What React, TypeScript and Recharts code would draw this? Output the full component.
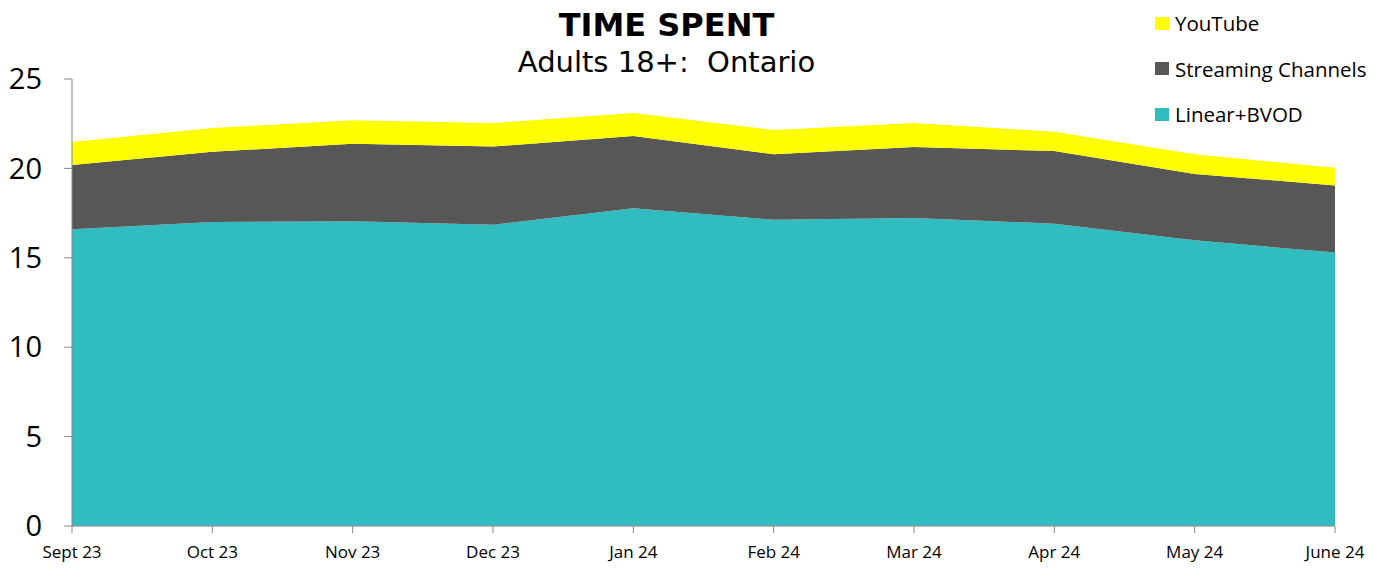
import React from "react";
import { AreaChart, Area, XAxis, YAxis } from "recharts";

const months = ["Sept 23", "Oct 23", "Nov 23", "Dec 23", "Jan 24", "Feb 24", "Mar 24", "Apr 24", "May 24", "June 24"];
const linearBvod = [16.6, 17.0, 17.04, 16.85, 17.77, 17.13, 17.23, 16.91, 15.98, 15.29];
const streaming = [3.59, 3.93, 4.34, 4.37, 4.04, 3.66, 3.97, 4.06, 3.71, 3.76];
const youtube = [1.29, 1.33, 1.31, 1.32, 1.29, 1.36, 1.34, 1.08, 1.1, 0.99];
const yTicks = [0, 5, 10, 15, 20, 25];

const data = months.map((m, i) => ({
  month: m,
  linear: linearBvod[i],
  streaming: streaming[i],
  youtube: youtube[i],
}));

const FONT = "'Open Sans', 'Noto Sans', sans-serif";
const TITLE_FONT = "'DejaVu Sans', Verdana, sans-serif";
const legendItems = [
  { name: "YouTube", color: "#FFFF00" },
  { name: "Streaming Channels", color: "#575757" },
  { name: "Linear+BVOD", color: "#31BDC0" },
];

export default function App() {
  return (
    <div style={{ position: "absolute", left: 0, top: 0, width: 1383, height: 577, background: "#fff", fontFamily: FONT }}>
      <div style={{ position: "absolute", left: 0, width: 1333, top: 5, textAlign: "center", fontSize: 32, fontWeight: 700, color: "#000", fontFamily: TITLE_FONT, lineHeight: "40px" }}>
        TIME SPENT
      </div>
      <div style={{ position: "absolute", left: 0, width: 1333, top: 44, textAlign: "center", fontSize: 29, color: "#000", whiteSpace: "pre", fontFamily: TITLE_FONT, lineHeight: "36px" }}>
        {"Adults 18+:  Ontario"}
      </div>
      <div style={{ position: "absolute", left: 1155, top: 11 }}>
        {legendItems.map((it, i) => (
          <div key={it.name} style={{ display: "flex", alignItems: "center", height: 24, marginBottom: i < 2 ? 21.5 : 0 }}>
            <span style={{ display: "inline-block", width: 14, height: 13, background: it.color, marginRight: 6 }} />
            <span style={{ fontSize: 20.5, color: "#000", lineHeight: "24px" }}>{it.name}</span>
          </div>
        ))}
      </div>
      <AreaChart width={1383} height={577} data={data} margin={{ top: 79, right: 48, bottom: 21, left: 0 }}>
        <XAxis
          dataKey="month"
          tick={{ fontSize: 17, fill: "#000", fontFamily: FONT }}
          tickSize={7}
          tickMargin={13}
          stroke="#868686"
          interval={0}
        />
        <YAxis
          domain={[0, 25]}
          ticks={yTicks}
          width={72}
          tick={{ fontSize: 29, fill: "#000", fontFamily: FONT }}
          tickSize={8}
          tickMargin={22}
          stroke="#868686"
          interval={0}
        />
        <Area type="linear" dataKey="linear" stackId="1" stroke="none" fill="#31BDC0" fillOpacity={1} isAnimationActive={false} />
        <Area type="linear" dataKey="streaming" stackId="1" stroke="none" fill="#575757" fillOpacity={1} isAnimationActive={false} />
        <Area type="linear" dataKey="youtube" stackId="1" stroke="none" fill="#FFFF00" fillOpacity={1} isAnimationActive={false} />
      </AreaChart>
    </div>
  );
}
